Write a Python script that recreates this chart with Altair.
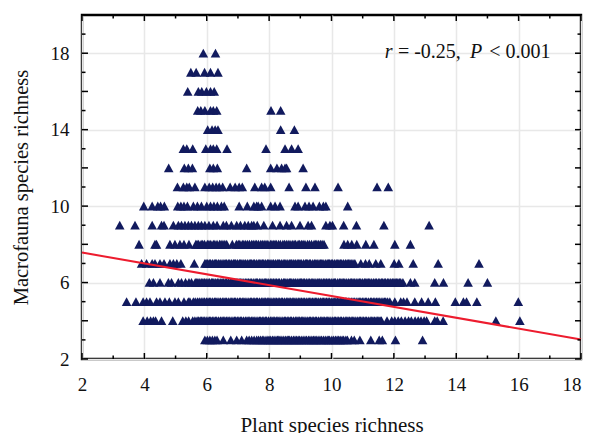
import altair as alt
import pandas as pd

FONT = "Liberation Serif"
W, H = 499, 344

row_18 = [5.89, 6.28]
row_17 = [5.49, 5.66, 5.93, 6.12, 6.36]
row_16 = [5.39, 5.73, 5.84, 5.99, 6.12, 6.24]
row_15 = [5.71, 5.81, 5.94, 6.12, 6.21, 6.32, 8.06, 8.37]
row_14 = [6.03, 6.17, 6.27, 6.36, 8.37, 8.81]
row_13 = [5.25, 5.36, 5.55, 5.97, 6.12, 6.21, 6.32, 6.65, 7.90, 8.51, 8.72, 8.93]
row_12 = [4.78, 5.28, 5.41, 5.54, 6.10, 6.21, 6.34, 7.28, 8.05, 8.25, 8.40, 8.51, 8.56, 9.09]
row_11 = [5.06, 5.25, 5.36, 5.44, 5.62, 5.94, 6.08, 6.19, 6.30, 6.40, 6.51, 6.75, 6.91, 7.04,
          7.14, 7.54, 7.76, 7.86, 8.05, 8.64, 9.18, 9.47, 10.21, 11.46, 11.82]
row_10 = [3.98, 4.25, 4.43, 4.52, 4.64, 5.07, 5.17, 5.27, 5.38, 5.57, 5.70, 5.83, 6.00, 6.12,
          6.23, 6.34, 6.47, 6.56, 7.04, 7.30, 7.51, 7.60, 7.65, 7.76, 8.05, 8.19, 8.35, 8.83,
          8.93, 9.15, 9.28, 9.41, 9.61, 9.74, 9.82, 10.52]
row_9 = [3.21, 3.70, 4.25, 4.55, 4.63, 4.93, 5.09, 5.19, 5.30, 5.41, 5.51, 5.62, 5.73, 5.83,
         5.94, 6.07, 6.21, 6.33, 6.53, 6.63, 6.79, 6.96, 7.08, 7.22, 7.33, 7.44, 7.51, 7.62,
         7.83, 8.11, 8.35, 8.56, 8.72, 8.99, 9.25, 9.36, 9.82, 9.95, 10.03, 10.39, 10.80,
         11.68, 13.13]
row_8 = [3.83, 4.34, 4.39, 4.82, 4.98, 5.14, 5.27, 5.43, 5.65, 5.74, 5.82, 5.93, 6.02, 6.13,
         6.21, 6.33, 6.41, 6.52, 6.64, 6.82, 6.95, 7.06, 7.14, 7.25, 7.37, 7.44, 7.55, 7.66,
         7.73, 7.84, 7.96, 8.04, 8.15, 8.23, 8.36, 8.44, 8.55, 8.67, 8.74, 8.85, 8.93, 9.04,
         9.15, 9.23, 9.36, 9.44, 9.53, 9.65, 9.76, 10.40, 10.52, 10.65, 10.81, 11.10, 11.36,
         12.03, 12.53,
         5.69, 5.87, 6.07, 6.26, 6.46, 6.58, 7.01, 7.19, 7.31, 7.49, 7.60, 7.78, 7.90, 8.09,
         8.19, 8.30, 8.49, 8.61, 8.80, 8.98, 9.09, 9.29, 9.48, 9.59, 9.70]
row_7 = [3.91, 4.07, 4.25, 4.34, 4.50, 4.63, 4.82, 4.93, 5.04, 5.17, 5.60, 5.94, 6.03, 6.12,
         6.24, 6.32, 6.43, 6.55, 6.63, 6.74, 6.86, 6.93, 7.05, 7.13, 7.24, 7.36, 7.44, 7.53,
         7.65, 7.74, 7.83, 7.95, 8.03, 8.14, 8.26, 8.33, 8.45, 8.54, 8.66, 8.73, 8.84, 8.95,
         9.03, 9.16, 9.24, 9.33, 9.46, 9.54, 9.65, 9.73, 9.86, 9.94, 10.03, 10.15, 10.24,
         10.33, 10.45, 10.54, 10.63, 10.75, 10.94, 11.09, 11.21, 11.42, 11.58, 12.01, 12.16,
         12.62, 13.42, 14.73,
         5.98, 6.08, 6.18, 6.28, 6.38, 6.49, 6.59, 6.69, 6.80, 6.90, 6.99, 7.09, 7.19, 7.30,
         7.40, 7.49, 7.59, 7.70, 7.79, 7.89, 7.99, 8.09, 8.20, 8.29, 8.39, 8.50, 8.60, 8.70,
         8.79, 8.90, 8.99, 9.10, 9.20, 9.29, 9.40, 9.50, 9.60, 9.69, 9.80, 9.90, 9.99, 10.09,
         10.20, 10.29, 10.39, 10.50, 10.59, 10.69]
row_6 = [4.16, 4.29, 4.50, 4.77, 4.87, 5.09, 5.19, 5.32, 5.43, 5.51, 5.63, 5.72, 5.84, 5.93,
         6.04, 6.15, 6.23, 6.34, 6.45, 6.53, 6.64, 6.76, 6.83, 6.94, 7.06, 7.13, 7.25, 7.34,
         7.43, 7.55, 7.63, 7.74, 7.86, 7.93, 8.05, 8.14, 8.24, 8.33, 8.46, 8.54, 8.65, 8.73,
         8.84, 8.96, 9.04, 9.13, 9.25, 9.35, 9.44, 9.56, 9.63, 9.75, 9.84, 9.93, 10.05, 10.13,
         10.26, 10.34, 10.43, 10.55, 10.64, 10.73, 10.85, 10.94, 11.06, 11.14, 11.23, 11.35,
         11.44, 11.55, 11.64, 11.73, 11.84, 11.95, 12.04, 12.13, 12.22, 12.29, 12.53, 12.67,
         13.31, 13.59, 14.38, 15.00,
         5.68, 5.78, 5.88, 5.98, 6.09, 6.19, 6.29, 6.39, 6.49, 6.59, 6.70, 6.79, 6.89, 7.00,
         7.09, 7.19, 7.29, 7.39, 7.49, 7.59, 7.69, 7.80, 7.89, 7.99, 8.09, 8.19, 8.29, 8.40,
         8.50, 8.60, 8.69, 8.79, 8.90, 9.00, 9.09, 9.19, 9.30, 9.40, 9.50, 9.60, 9.69, 9.79,
         9.89, 9.99, 10.09, 10.20, 10.30, 10.39, 10.49, 10.60, 10.69, 10.79, 10.90, 11.00,
         11.10, 11.19, 11.29, 11.40, 11.50, 11.60, 11.69, 11.79, 11.90, 12.00, 12.09, 12.18]
row_5 = [3.43, 3.73, 3.96, 4.07, 4.18, 4.39, 4.50, 4.66, 4.80, 4.98, 5.09, 5.27, 5.41, 5.57,
         5.70, 5.82, 5.93, 6.04, 6.13, 6.25, 6.33, 6.44, 6.55, 6.63, 6.75, 6.84, 6.93, 7.05,
         7.14, 7.23, 7.35, 7.44, 7.54, 7.63, 7.75, 7.84, 7.94, 8.03, 8.15, 8.24, 8.34, 8.43,
         8.55, 8.64, 8.74, 8.83, 8.95, 9.04, 9.13, 9.25, 9.34, 9.44, 9.53, 9.65, 9.74, 9.84,
         9.93, 10.05, 10.14, 10.24, 10.33, 10.45, 10.54, 10.64, 10.73, 10.85, 10.94, 11.04,
         11.13, 11.25, 11.34, 11.44, 11.53, 11.65, 11.74, 11.87, 12.03, 12.22, 12.31, 12.42,
         12.67, 12.89, 13.10, 13.33, 13.97, 14.23, 14.33, 14.66, 15.99,
         5.46, 5.63, 5.76, 5.88, 5.99, 6.09, 6.19, 6.29, 6.39, 6.50, 6.59, 6.69, 6.80, 6.89,
         6.99, 7.09, 7.19, 7.29, 7.40, 7.49, 7.59, 7.69, 7.80, 7.89, 7.99, 8.09, 8.19, 8.29,
         8.39, 8.49, 8.60, 8.69, 8.79, 8.89, 8.99, 9.09, 9.19, 9.29, 9.39, 9.49, 9.59, 9.70,
         9.79, 9.89, 9.99, 10.09, 10.19, 10.29, 10.39, 10.49, 10.59, 10.69, 10.79, 10.89,
         10.99, 11.09, 11.19, 11.29, 11.39, 11.49, 11.59, 11.70, 11.80]
row_4 = [3.96, 4.09, 4.20, 4.29, 4.36, 4.55, 4.91, 5.23, 5.33, 5.42, 5.55, 5.62, 5.74, 5.83,
         5.92, 6.04, 6.13, 6.23, 6.32, 6.44, 6.53, 6.63, 6.72, 6.84, 6.93, 7.03, 7.12, 7.24,
         7.33, 7.43, 7.52, 7.64, 7.73, 7.83, 7.92, 8.04, 8.13, 8.23, 8.32, 8.44, 8.53, 8.63,
         8.72, 8.84, 8.93, 9.03, 9.12, 9.24, 9.33, 9.43, 9.52, 9.64, 9.73, 9.83, 9.92, 10.04,
         10.13, 10.23, 10.32, 10.44, 10.53, 10.63, 10.72, 10.84, 10.93, 11.03, 11.12, 11.24,
         11.33, 11.43, 11.52, 11.60, 11.78, 11.93, 12.03, 12.14, 12.24, 12.36, 12.47, 12.56,
         12.68, 12.78, 12.87, 12.97, 13.05, 13.31, 13.39, 13.58, 15.27, 16.04,
         5.69, 5.79, 5.88, 5.98, 6.09, 6.18, 6.28, 6.38, 6.49, 6.58, 6.68, 6.78, 6.89, 6.98,
         7.08, 7.18, 7.29, 7.38, 7.48, 7.58, 7.69, 7.78, 7.88, 7.98, 8.09, 8.18, 8.28, 8.38,
         8.49, 8.58, 8.68, 8.78, 8.89, 8.98, 9.08, 9.18, 9.29, 9.38, 9.48, 9.58, 9.69, 9.78,
         9.88, 9.98, 10.09, 10.18, 10.28, 10.38, 10.49, 10.58, 10.68, 10.78, 10.89, 10.98,
         11.08, 11.18, 11.29, 11.38, 11.48, 11.56]
row_3 = [5.94, 6.10, 6.26, 6.53, 6.77, 6.96, 7.12, 7.28, 7.44, 7.60, 7.72, 7.83, 7.96, 8.05,
         8.16, 8.27, 8.35, 8.47, 8.58, 8.66, 8.78, 8.88, 8.97, 9.09, 9.20, 9.31, 9.42, 9.51,
         9.63, 9.74, 9.86, 9.94, 10.07, 10.18, 10.28, 10.39, 10.51, 10.64, 10.73, 10.91,
         11.26, 11.53, 11.63, 12.05, 12.92,
         6.02, 6.18, 6.33, 7.36, 7.52, 7.66, 7.78, 7.90, 8.00, 8.11, 8.22, 8.31, 8.41, 8.53,
         8.62, 8.72, 8.83, 8.93, 9.03, 9.15, 9.26, 9.37, 9.47, 9.57, 9.68, 9.80, 9.90, 10.01,
         10.13, 10.23, 10.34, 10.46]

fit_x = [2, 18]
fit_y = [7.57, 3.02]

even_x = [2, 4, 6, 8, 10, 12, 14, 16, 18]
odd_x = [3, 5, 7, 9, 11, 13, 15, 17]
even_y = [2, 4, 6, 8, 10, 12, 14, 16, 18, 20]
odd_y = [3, 5, 7, 9, 11, 13, 15, 17, 19]

note_italic_x = [11.71, 14.44]
note_italic_y = [17.76, 17.76]
note_italic_text = ["r", "P"]
note_plain_x = [12.13, 15.06]
note_plain_y = [17.76, 17.76]
note_plain_text = ["= -0.25,", "< 0.001"]

rows = {3: row_3, 4: row_4, 5: row_5, 6: row_6, 7: row_7, 8: row_8, 9: row_9, 10: row_10,
        11: row_11, 12: row_12, 13: row_13, 14: row_14, 15: row_15, 16: row_16, 17: row_17,
        18: row_18}
pts = pd.DataFrame([{"x": x, "y": y} for y, xs_ in rows.items() for x in xs_])

xs = alt.Scale(domain=[2, 18], nice=False, zero=False)
ys = alt.Scale(domain=[2, 20], nice=False, zero=False)

x_enc = alt.X("x:Q", scale=xs, title="Plant species richness",
              axis=alt.Axis(values=even_x, grid=True, gridColor="#e8e8e8", gridWidth=1.5,
                            domain=False, ticks=False, labelFont=FONT, labelFontSize=19,
                            labelColor="#111", labelPadding=16, labelFlush=False,
                            labelAlign=alt.condition("datum.value === 18", alt.value("right"), alt.value("center")),
                            titleFont=FONT, titleFontSize=21, titleFontWeight="normal",
                            titleColor="#111", titlePadding=20))
y_enc = alt.Y("y:Q", scale=ys, title="Macrofauna species richness",
              axis=alt.Axis(values=even_y, grid=True, gridColor="#e8e8e8", gridWidth=1.5,
                            domain=False, ticks=False, labelFont=FONT, labelFontSize=19,
                            labelColor="#111", labelPadding=13,
                            labelExpr="indexof([2,6,10,14,18], datum.value) >= 0 ? datum.label : ''",
                            titleFont=FONT, titleFontSize=20.5, titleFontWeight="normal",
                            titleColor="#111", titlePadding=19))

points = alt.Chart(pts).mark_point(filled=True, opacity=1, color="#111a5e", size=92,
                                   shape="M0,-0.94L1,0.9L-1,0.9Z").encode(x=x_enc, y=y_enc)

line = alt.Chart(pd.DataFrame({"x": fit_x, "y": fit_y})).mark_line(color="#ed1c2e", strokeWidth=2).encode(
    x=alt.X("x:Q", scale=xs), y=alt.Y("y:Q", scale=ys))


def note(x_vals, y_vals, texts, style):
    return alt.Chart(pd.DataFrame({"x": x_vals, "y": y_vals, "t": texts})).mark_text(
        font=FONT, fontSize=20, fontStyle=style, align="left", baseline="alphabetic",
        color="#111").encode(x=alt.X("x:Q", scale=xs), y=alt.Y("y:Q", scale=ys), text="t:N")


def yticks(vals, length):
    d = pd.DataFrame({"y": vals})
    base = alt.Chart(d).mark_rule(color="black", strokeWidth=1.5)
    yy = alt.Y("y:Q", scale=ys)
    return base.encode(y=yy, x=alt.value(0), x2=alt.value(length)) + \
        base.encode(y=yy, x=alt.value(W - length), x2=alt.value(W))


def xticks(vals, length):
    d = pd.DataFrame({"x": vals})
    base = alt.Chart(d).mark_rule(color="black", strokeWidth=1.5)
    xx = alt.X("x:Q", scale=xs)
    return base.encode(x=xx, y=alt.value(0), y2=alt.value(length)) + \
        base.encode(x=xx, y=alt.value(H - length), y2=alt.value(H))


chart = alt.layer(
    points, line,
    note(note_italic_x, note_italic_y, note_italic_text, "italic"),
    note(note_plain_x, note_plain_y, note_plain_text, "normal"),
    yticks(even_y, 6), yticks(odd_y, 3.5), xticks(even_x, 6), xticks(odd_x, 3.5)
).properties(
    width=W, height=H, autosize="none", background="white",
    padding={"left": 74, "top": 7, "right": 2, "bottom": 74}
).configure_view(stroke="black", strokeWidth=2.4)

chart.save("out.html", embed_options={"renderer": "svg", "actions": False})
